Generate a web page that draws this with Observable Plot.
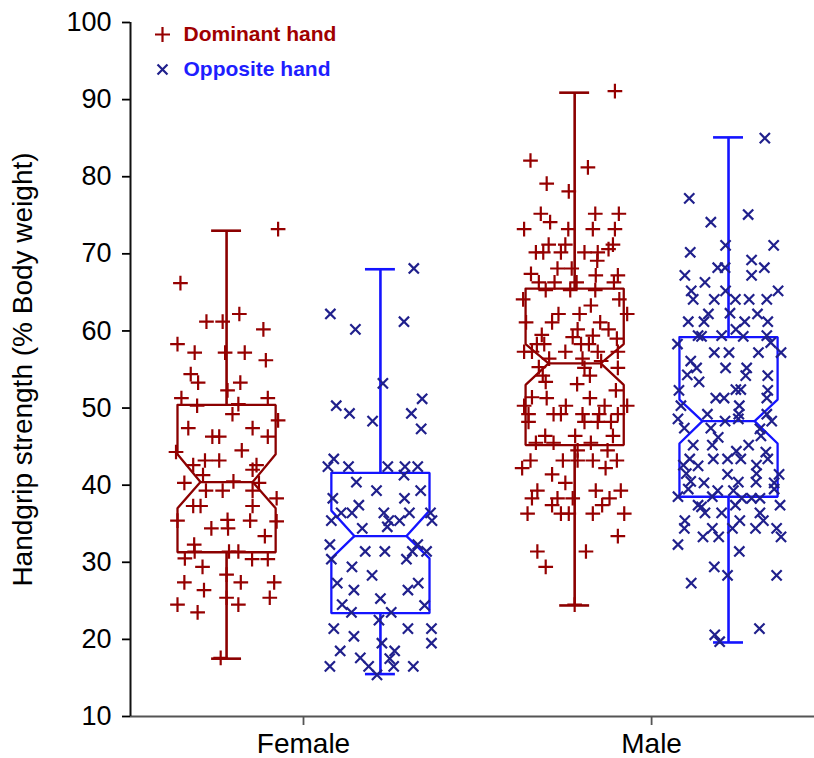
<!DOCTYPE html>
<html>
<head>
<meta charset="utf-8">
<script src="https://cdn.jsdelivr.net/npm/d3@7"></script>
<script src="https://cdn.jsdelivr.net/npm/@observablehq/plot@0.6"></script>
<style>
  html, body { margin: 0; padding: 0; background: #fff; }
</style>
</head>
<body>
<div id="chart"></div>
<script>
// ---------- data ----------
const sexes = ["Female", "Male"];
const hands = ["Dominant hand", "Opposite hand"];
const yTicks = [10, 20, 30, 40, 50, 60, 70, 80, 90, 100];
const yLabel = "Handgrip strength (% Body weight)";

// box statistics, order: Female dominant, Female opposite, Male dominant, Male opposite
const boxSex = ["Female", "Female", "Male", "Male"];
const boxHand = ["Dominant hand", "Opposite hand", "Dominant hand", "Opposite hand"];
const whiskerLow = [17.5, 15.5, 24.4, 19.6];
const q1 = [31.3, 23.4, 45.2, 38.5];
const notchLow = [37.0, 30.5, 53.0, 45.4];
const median = [40.4, 33.4, 55.8, 48.3];
const notchHigh = [44.0, 36.7, 58.3, 51.1];
const q3 = [50.4, 41.6, 65.5, 59.2];
const whiskerHigh = [73.0, 68.0, 90.9, 85.1];

// individual observations: [value, jitter (relative to box half width)]
const femaleDominant = [[73.2,1.05],[66.2,-0.94],[62.2,0.26],[61.2,-0.41],[61.2,-0.08],[60.2,0.75],[58.3,-1.0],[57.2,-0.65],[57.2,-0.03],[57.2,0.37],[56.2,0.80],[54.4,-0.73],[53.3,-0.58],[53.3,0.28],[52.3,0.02],[51.3,-0.92],[51.3,0.84],[50.3,-0.6],[50.5,0.24],[49.2,0.12],[48.4,1.05],[47.4,-0.78],[47.4,0.53],[46.3,0.84],[46.3,-0.29],[46.3,-0.15],[44.3,-1.03],[44.5,0.31],[42.6,-0.68],[43.2,-0.44],[43.2,-0.15],[42.6,0.61],[42.0,0.53],[41.3,-0.48],[40.3,-0.86],[40.5,0.14],[40.3,0.66],[39.3,-0.42],[39.3,-0.08],[39.3,0.53],[38.3,1.02],[37.3,-0.68],[37.3,-0.53],[37.3,0.53],[35.4,-1.0],[35.5,0.02],[35.4,0.48],[35.3,1.02],[34.4,-0.31],[34.4,0.03],[33.4,0.78],[32.3,-0.66],[31.4,-0.65],[30.5,-0.85],[31.4,0.05],[31.4,0.24],[30.4,0.52],[30.4,0.84],[29.4,-0.49],[28.4,0],[27.4,-0.86],[27.4,0.29],[27.4,0.97],[26.4,-0.46],[25.4,0],[25.4,0.88],[24.5,-1.0],[24.5,0.24],[23.5,-0.59],[17.6,-0.12]];

const femaleOpposite = [[68.1,0.68],[62.2,-1.02],[60.2,-0.51],[61.2,0.48],[53.2,0.05],[50.3,-0.9],[51.2,0.85],[49.3,-0.63],[49.3,0.63],[48.3,-0.16],[47.3,0.83],[43.4,-0.95],[42.4,-1.07],[42.4,-0.65],[42.4,0.15],[42.4,0.5],[42.4,0.76],[41.3,0.48],[40.4,-0.49],[39.3,-0.08],[39.3,0.82],[38.3,-0.97],[38.3,0.49],[37.4,-0.44],[36.4,-0.8],[36.4,-0.58],[36.4,0.07],[36.4,0.59],[36.4,1.02],[35.4,-1.0],[35.4,0.17],[35.4,0.39],[35.4,1.05],[34.6,0.14],[34.4,-0.37],[32.3,-1.03],[32.3,0.76],[31.4,-0.31],[31.4,0.09],[31.4,0.65],[31.4,0.94],[30.4,-1.0],[30.4,0.53],[29.4,-0.58],[28.3,-0.17],[27.3,-0.88],[27.3,0.77],[26.4,-0.54],[26.4,0.56],[25.3,0],[24.5,-0.78],[24.4,0.9],[23.5,-0.59],[23.5,0.22],[22.5,-0.03],[21.4,-0.95],[20.4,-0.54],[21.4,0.56],[21.4,1.04],[19.5,1.04],[19.5,0.03],[18.5,-0.82],[18.5,0.29],[17.6,-0.41],[17.5,0.19],[16.5,-1.03],[16.5,-0.24],[16.5,0.27],[16.5,0.67],[15.4,-0.07]];

const maleDominant = [[91.1,0.82],[82.1,-0.9],[81.2,0.27],[79.1,-0.57],[78.1,-0.12],[75.2,-0.69],[75.2,0.42],[75.2,0.9],[74.1,-0.5],[73.2,-1.03],[73.2,-0.13],[73.2,0.37],[73.2,0.82],[71.2,-0.53],[71.2,-0.19],[71.2,0.78],[70.2,-0.79],[70.2,-0.64],[70.2,-0.28],[70.2,0.2],[70.2,0.47],[70.6,0.69],[69.1,0.46],[68.1,-0.35],[68.1,-0.06],[67.4,-0.89],[67.2,0.43],[67.2,0.88],[66.3,-0.73],[66.3,-0.41],[66.3,0.04],[66.3,0.8],[65.3,-0.59],[65.3,-0.09],[65.3,0.42],[64.1,-1.05],[64.1,0.91],[63.3,0.33],[62.2,-0.33],[62.2,0.1],[62.2,1.07],[61.1,-0.46],[61.1,-0.99],[61.1,0.52],[60.2,0.06],[60.2,0.69],[59.5,-0.67],[59.2,-0.04],[59.4,0.37],[59.0,0.86],[58.3,-0.77],[58.3,-0.62],[58.3,0.13],[58.3,0.29],[57.3,-1.03],[57.3,-0.87],[57.3,-0.19],[57.3,0.47],[57.3,0.88],[56.4,-0.52],[56.4,0.16],[56.1,0.54],[55.3,-0.73],[55.2,0.2],[55.2,0.88],[54.2,-0.65],[53.4,-0.59],[54.2,0.31],[53.1,0.05],[52.3,0.84],[51.4,-0.87],[51.3,-0.57],[51.3,0.31],[50.3,-1.03],[50.3,-0.18],[50.3,0.61],[50.3,1.07],[49.2,-0.94],[49.2,-0.43],[49.2,-0.28],[49.2,0.16],[49.2,0.5],[49.2,0.88],[48.2,-0.94],[48.2,0.2],[48.2,0.47],[48.2,0.74],[46.4,-0.6],[46.4,0.01],[46.4,0.78],[45.5,-0.79],[45.5,-0.43],[45.5,0.33],[44.5,0.06],[44.5,0.67],[43.2,-0.24],[43.2,0.06],[43.2,0.37],[43.2,0.86],[43.2,-0.9],[42.2,-1.07],[42.2,0.63],[41.4,-0.46],[40.3,-0.19],[39.3,-0.76],[39.3,0.43],[39.3,0.94],[38.3,-0.87],[38.3,-0.35],[38.3,-0.04],[38.3,0.71],[37.4,-0.46],[37.4,0.56],[36.3,-0.96],[36.3,-0.28],[36.3,-0.12],[36.3,0.37],[36.3,1.01],[33.4,0.88],[31.4,-0.76],[31.4,0.23],[29.4,-0.59],[24.5,0]];

const maleOpposite = [[85.0,0.74],[77.2,-0.8],[75.1,0.4],[74.1,-0.36],[71.1,-0.06],[71.1,0.92],[70.2,-0.78],[69.2,0.47],[68.2,-0.22],[68.2,-0.07],[68.2,0.73],[67.2,-0.89],[67.2,0.47],[66.3,-0.48],[65.2,1.01],[65.2,-0.76],[64.1,-0.72],[65.2,-0.06],[64.1,-0.29],[64.1,0.14],[64.1,0.42],[64.1,0.78],[62.2,-0.41],[62.3,0.03],[62.2,0.59],[61.2,-0.82],[61.2,-0.5],[61.2,0.33],[61.2,0.8],[60.2,0.15],[59.4,-0.62],[59.4,-0.14],[59.4,0.78],[59.3,-0.55],[59.3,0.3],[58.5,0.86],[58.3,-1.04],[57.2,1.07],[57.2,-0.29],[57.2,0.01],[57.2,0.61],[56.1,-0.77],[55.2,-0.65],[55.2,-0.06],[55.2,0.37],[54.3,-0.84],[54.2,0.35],[54.2,0.8],[53.4,-0.6],[52.3,-1.01],[52.4,0.15],[52.4,0.25],[52.3,0.8],[51.3,0.78],[51.3,-0.26],[51.3,-0.09],[50.3,-0.97],[50.3,0.22],[49.2,0.21],[49.2,0.78],[49.2,-0.43],[48.6,-1.03],[48.3,-0.07],[48.6,0.2],[48.3,0.88],[47.4,-0.9],[47.4,-0.36],[47.3,0.64],[46.2,-0.21],[46.4,0.66],[45.2,-0.72],[45.2,-0.33],[45.2,0.41],[44.4,0.16],[44.3,0.76],[43.4,0.8],[43.4,-0.79],[43.4,-0.31],[43.4,-0.02],[43.4,0.25],[42.6,-0.92],[42.5,-0.62],[42.6,0.57],[41.5,-0.86],[41.4,-0.02],[41.5,0.57],[41.4,1.03],[40.5,-0.77],[40.3,-0.5],[40.4,0.2],[40.4,0.56],[40.3,0.93],[39.5,-0.82],[39.3,-0.22],[39.3,0.1],[39.5,0.93],[38.5,-1.03],[38.5,-0.33],[38.3,0.27],[38.3,0.47],[38.3,0.64],[37.4,-0.62],[37.2,-0.55],[37.4,0.14],[37.4,1.05],[36.4,-0.48],[36.4,-0.14],[36.4,0.64],[35.4,0.71],[35.4,-0.89],[35.4,0.23],[34.4,-0.9],[34.4,-0.33],[34.4,0.08],[34.4,0.55],[34.4,0.98],[33.3,-0.52],[33.3,-0.2],[33.3,1.07],[32.3,-1.03],[31.4,0.22],[29.4,-0.29],[28.3,-0.02],[28.3,0.98],[27.3,-0.76],[21.4,0.63],[20.6,-0.28],[19.7,-0.18]];

const groupPoints = [femaleDominant, femaleOpposite, maleDominant, maleOpposite];

// ---------- layout / style ----------
const xDomain = [0.503, 2.468];
const handOffset = 0.221;
const boxHalf = 0.141;
const notchHalf = 0.075;
const capHalf = 0.043;
const col = {
  "Dominant hand": {box: "#8b0000", mark: "#950000", legend: "#a00000", symbol: "plus", r: 4.8},
  "Opposite hand": {box: "#1414ff", mark: "#20208c", legend: "#1e1eff", symbol: "times", r: 4.7}
};

const center = i => sexes.indexOf(boxSex[i]) + 1 + (boxHand[i] === hands[0] ? -handOffset : handOffset);
const idx = d3.range(boxSex.length);

// points table
const points = [];
idx.forEach(i => {
  groupPoints[i].forEach(([v, j]) => points.push({x: center(i) + j * boxHalf, y: v, hand: boxHand[i]}));
});

// notched box outlines
const outlines = [];
idx.forEach(i => {
  const c = center(i), w = boxHalf, n = notchHalf;
  const verts = [
    [c - w, q3[i]], [c + w, q3[i]], [c + w, notchHigh[i]], [c + n, median[i]], [c + w, notchLow[i]],
    [c + w, q1[i]], [c - w, q1[i]], [c - w, notchLow[i]], [c - n, median[i]], [c - w, notchHigh[i]], [c - w, q3[i]]
  ];
  verts.forEach(([x, y]) => outlines.push({x, y, g: i, hand: boxHand[i]}));
});

const marksFor = hand => {
  const ii = idx.filter(i => boxHand[i] === hand);
  const s = col[hand];
  return [
    Plot.line(outlines.filter(d => d.hand === hand), {x: "x", y: "y", z: "g", stroke: s.box, strokeWidth: 2.3, strokeLinejoin: "miter", curve: "linear"}),
    Plot.ruleY(ii, {y: i => median[i], x1: i => center(i) - notchHalf, x2: i => center(i) + notchHalf, stroke: s.box, strokeWidth: 2.3}),
    Plot.ruleX(ii, {x: center, y1: i => q3[i], y2: i => whiskerHigh[i], stroke: s.box, strokeWidth: 2.6}),
    Plot.ruleX(ii, {x: center, y1: i => q1[i], y2: i => whiskerLow[i], stroke: s.box, strokeWidth: 2.6}),
    Plot.ruleY(ii, {y: i => whiskerHigh[i], x1: i => center(i) - capHalf, x2: i => center(i) + capHalf, stroke: s.box, strokeWidth: 2.6}),
    Plot.ruleY(ii, {y: i => whiskerLow[i], x1: i => center(i) - capHalf, x2: i => center(i) + capHalf, stroke: s.box, strokeWidth: 2.6}),
    Plot.dot(points.filter(d => d.hand === hand), {x: "x", y: "y", symbol: () => s.symbol, r: s.r, stroke: s.mark, fill: "none", strokeWidth: 2.2})
  ];
};

const chart = Plot.plot({
  width: 814,
  height: 758,
  marginLeft: 130,
  marginRight: 0,
  marginTop: 22,
  marginBottom: 42,
  x: {domain: xDomain, axis: null},
  y: {domain: [10, 100], axis: null},
  symbol: {type: "identity"},
  style: {fontFamily: "'Liberation Sans', Arial, sans-serif", fontSize: "27px", color: "#000", background: "#fff", overflow: "visible"},
  marks: [
    Plot.axisY({ticks: yTicks, tickSize: 8, tickPadding: 11, label: null, strokeWidth: 1.8, fontSize: 27}),
    Plot.axisX({ticks: [1, 2], tickFormat: d => sexes[d - 1], tickSize: 9, tickPadding: 8, label: null, strokeWidth: 1.8, stroke: "#555", fill: "#000", fontSize: 28}),
    Plot.ruleY([10], {stroke: "#555", strokeWidth: 2}),
    Plot.ruleX([xDomain[0]], {stroke: "#111", strokeWidth: 2}),
    ...marksFor("Dominant hand"),
    ...marksFor("Opposite hand"),
    // y axis title
    Plot.text([yLabel], {frameAnchor: "left", dx: -107, rotate: -90, text: d => d, fontSize: 28, fill: "#000", textAnchor: "middle", lineAnchor: "middle"}),
    // legend
    Plot.dot([hands[0]], {frameAnchor: "top-left", dx: 32, dy: 12, symbol: () => col[hands[0]].symbol, r: 4.9, stroke: col[hands[0]].mark, strokeWidth: 2.2}),
    Plot.text([hands[0]], {frameAnchor: "top-left", dx: 53, dy: 12, text: d => d, textAnchor: "start", lineAnchor: "middle", fontWeight: "bold", fontSize: 21, fill: col[hands[0]].legend}),
    Plot.dot([hands[1]], {frameAnchor: "top-left", dx: 32, dy: 47, symbol: () => col[hands[1]].symbol, r: 4.6, stroke: col[hands[1]].mark, strokeWidth: 2.2}),
    Plot.text([hands[1]], {frameAnchor: "top-left", dx: 53, dy: 47, text: d => d, textAnchor: "start", lineAnchor: "middle", fontWeight: "bold", fontSize: 21, fill: col[hands[1]].legend})
  ]
});
document.getElementById("chart").appendChild(chart);
</script>
</body>
</html>
